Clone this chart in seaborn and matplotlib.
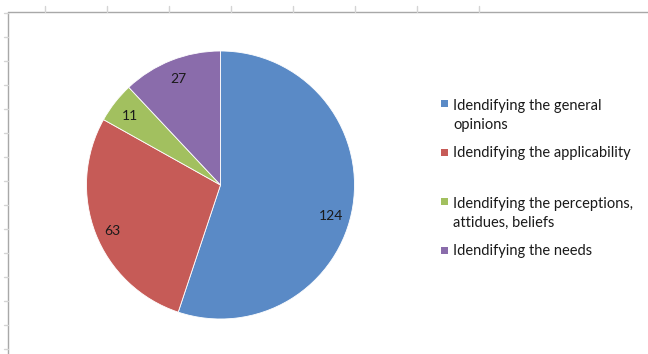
import matplotlib
matplotlib.use("Agg")
import matplotlib.pyplot as plt
from matplotlib.lines import Line2D
from matplotlib.patches import Rectangle
import seaborn as sns
import numpy as np

# Survey purposes and their counts
categories = [
    "Idendifying the general\nopinions",
    "Idendifying the applicability",
    "Idendifying the perceptions,\nattidues, beliefs",
    "Idendifying the needs",
]
counts = [124, 63, 11, 27]
colors = ["#5A8AC6", "#C65B57", "#A2C05F", "#8A6CAB"]

sns.set_theme(style="white")
plt.rcParams["font.family"] = ["Lato", "DejaVu Sans"]

W, H = 648, 354
fig = plt.figure(figsize=(W / 100, H / 100), dpi=100)
fig.patch.set_facecolor("white")

def fx(px):
    return px / W

def fy(py):
    return 1 - py / H

# Pie area: centre (220, 185), radius 134 px
cx, cy, r = 220.5, 185, 134
ax = fig.add_axes([fx(cx - r), fy(cy + r), 2 * r / W, 2 * r / H])
wedges, _, autotexts = ax.pie(
    counts,
    colors=colors,
    startangle=90,
    counterclock=False,
    radius=1,
    autopct=lambda p: f"{p * sum(counts) / 100:.0f}",
    pctdistance=0.85,
    wedgeprops=dict(linewidth=0.6, edgecolor="white"),
    textprops=dict(fontsize=10, color="#1a1a1a"),
)

# "Best fit" placement: nudge the value labels a little along the rim
label_shift_deg = [-6.5, 2.0, 1.0, 0.0]
label_dist = [0.86, 0.88, 0.85, 0.85]
for w, t, dth, dist in zip(wedges, autotexts, label_shift_deg, label_dist):
    mid = np.deg2rad((w.theta1 + w.theta2) / 2 + dth)
    t.set_position((dist * np.cos(mid), dist * np.sin(mid)))

ax.set_xlim(-1, 1)
ax.set_ylim(-1, 1)
ax.set_axis_off()

# Legend entries: square key plus wrapped label (key level with first line)
leg_x, leg_y0, leg_step = 444, 103, 49
fs = 10.5
line_px = 21
for i, (lab, col) in enumerate(zip(categories, colors)):
    y = leg_y0 + i * leg_step
    nlines = lab.count("\n") + 1
    fig.add_artist(Rectangle((fx(leg_x - 3.5), fy(y + 3.5)), 7 / W, 7 / H,
                             transform=fig.transFigure, facecolor=col,
                             edgecolor="none"))
    fig.text(fx(leg_x + 9), fy(y + 5 + (nlines - 1) * line_px), lab,
             fontsize=fs, color="#1a1a1a", va="baseline", ha="left",
             linespacing=line_px / (fs * 100 / 72))

# Chart frame with sheet grid tick marks
frame_col = "#A8A8A8"
tick_col = "#D4D4D4"
fig.add_artist(Line2D([fx(8), fx(648)], [fy(12), fy(12)], color=frame_col,
                      lw=1.0, transform=fig.transFigure))
fig.add_artist(Line2D([fx(8), fx(8)], [fy(12), fy(354)], color=frame_col,
                      lw=1.0, transform=fig.transFigure))
for x in [45, 107, 169, 231, 293, 355, 417, 479]:
    fig.add_artist(Line2D([fx(x), fx(x)], [fy(6), fy(12)], color=tick_col,
                          lw=1.0, transform=fig.transFigure))
for y in range(13, 354, 24):
    fig.add_artist(Line2D([fx(4), fx(8)], [fy(y), fy(y)], color=tick_col,
                          lw=1.0, transform=fig.transFigure))

fig.savefig("out.png", dpi=100, facecolor="white")
